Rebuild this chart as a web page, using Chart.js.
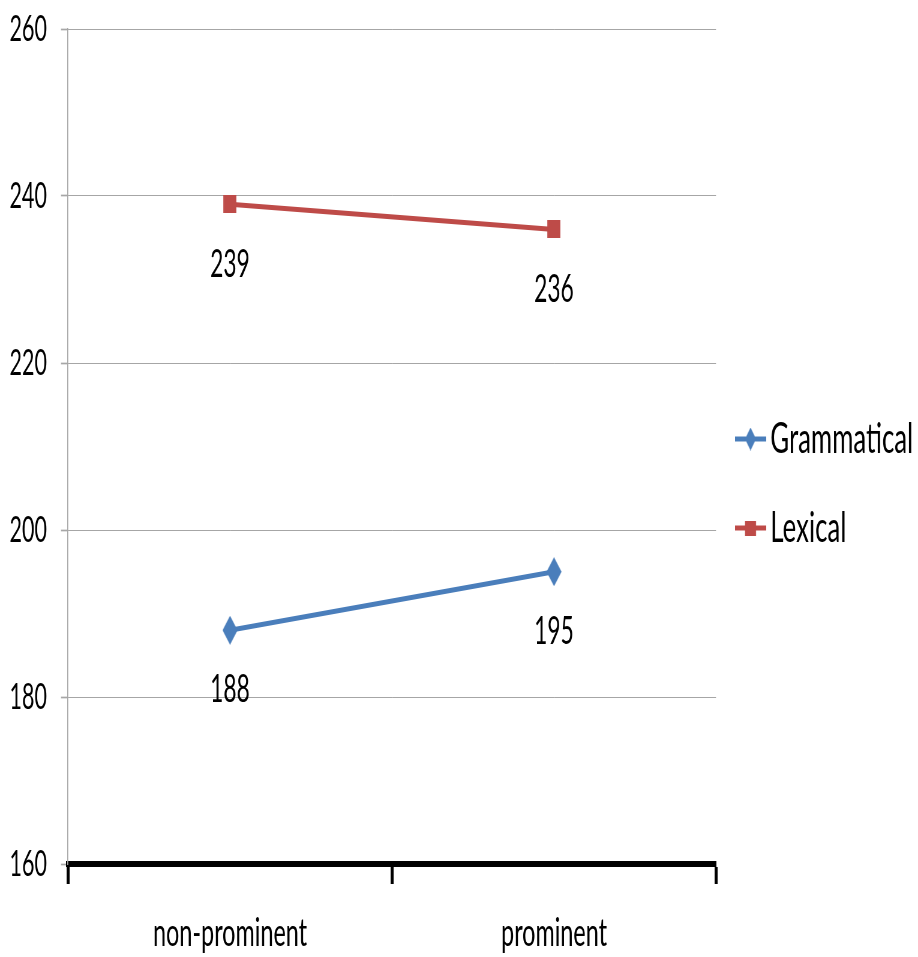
<!DOCTYPE html>
<html>
<head>
<meta charset="utf-8">
<script src="https://cdn.jsdelivr.net/npm/chart.js@4/dist/chart.umd.min.js"></script>
<style>
  html, body { margin: 0; padding: 0; background: #fff; overflow: hidden; }
  #frame { width: 918px; height: 957px; overflow: hidden; position: relative; background: #fff; }
  #chart { position: absolute; left: 0; top: 0; transform-origin: 0 0; }
</style>
</head>
<body>
<div id="frame"><canvas id="chart"></canvas></div>
<script>
// ---- data ----
const categories = ['non-prominent', 'prominent'];
const seriesNames = ['Grammatical', 'Lexical'];
const grammatical = [188, 195];
const lexical = [239, 236];
const yTicks = [160, 180, 200, 220, 240, 260];

// ---- geometry: the drawing is laid out wide, then condensed horizontally ----
const PAGE_W = 918, PAGE_H = 957;
const SQUEEZE = 0.6;
const W = Math.round(PAGE_W / SQUEEZE);
const px = v => v * W / PAGE_W;           // page x-distance -> canvas units

const BLUE = '#4A7EBB', RED = '#BE4B48';

function hasFont(name) {
  const g = document.createElement('canvas').getContext('2d');
  const probe = '0123456789 abcdefg';
  g.font = '40px monospace';
  const a = g.measureText(probe).width;
  g.font = `40px "${name}", monospace`;
  return g.measureText(probe).width !== a;
}
const NARROW = hasFont('Liberation Sans Narrow');
const NUM_FONT = NARROW ? 'Liberation Sans Narrow' : 'Lato';
const TICK_SIZE = NARROW ? 44 : 36;
const VALUE_SIZE = NARROW ? 47 : 38;

// marker / legend-icon bitmaps
function markerCanvas(kind, color, w, h, lineLen, lineW) {
  const cw = Math.ceil(Math.max(w, lineLen || 0)), ch = Math.ceil(Math.max(h, lineW || 0));
  const c = document.createElement('canvas');
  c.width = cw; c.height = ch;
  const g = c.getContext('2d');
  g.fillStyle = color; g.strokeStyle = color;
  const cx = cw / 2, cy = ch / 2;
  if (lineLen) {
    g.lineWidth = lineW;
    g.beginPath(); g.moveTo(0, cy); g.lineTo(cw, cy); g.stroke();
  }
  if (kind === 'diamond') {
    g.beginPath();
    g.moveTo(cx, cy - h / 2); g.lineTo(cx + w / 2, cy);
    g.lineTo(cx, cy + h / 2); g.lineTo(cx - w / 2, cy);
    g.closePath(); g.fill();
  } else {
    g.fillRect(cx - w / 2, cy - h / 2, w, h);
  }
  return c;
}
const pointImgs = [
  markerCanvas('diamond', BLUE, px(15), 29),
  markerCanvas('square', RED, px(13), 18)
];
const legendIcons = [
  markerCanvas('diamond', BLUE, px(11), 23, px(31), 5),
  markerCanvas('square', RED, px(11), 15, px(31), 5)
];

const canvas = document.getElementById('chart');
canvas.width = W; canvas.height = PAGE_H;
canvas.style.width = W + 'px';
canvas.style.height = PAGE_H + 'px';
canvas.style.transform = `scaleX(${PAGE_W / W})`;

Chart.defaults.font.family = 'Lato';
Chart.defaults.color = '#000';

// fixed legend column on the right
const legendBox = {
  id: 'legendBox',
  afterInit(chart) {
    const lg = chart.legend;
    if (!lg) return;
    const fit = lg.fit;
    lg.fit = function () { fit.call(this); this.width = W - px(716); };
  },
  afterLayout(chart) {
    const lg = chart.legend;
    if (!lg) return;
    lg.top = 16; lg.bottom = PAGE_H - 6; lg.height = lg.bottom - lg.top;
  }
};

// value labels under each point
const valueLabels = {
  id: 'valueLabels',
  afterDatasetsDraw(chart) {
    const ctx = chart.ctx;
    ctx.save();
    ctx.font = `${VALUE_SIZE}px "${NUM_FONT}"`;
    ctx.fillStyle = '#000';
    ctx.textAlign = 'center';
    ctx.textBaseline = 'middle';
    chart.data.datasets.forEach((ds, i) => {
      chart.getDatasetMeta(i).data.forEach((pt, j) => {
        ctx.fillText(String(ds.data[j]), pt.x, pt.y + 60);
      });
    });
    ctx.restore();
  }
};

new Chart(canvas, {
  type: 'line',
  data: {
    labels: categories,
    datasets: [
      { label: seriesNames[0], data: grammatical, borderColor: BLUE, backgroundColor: BLUE,
        borderWidth: 5, tension: 0, pointStyle: pointImgs[0], pointRadius: 6 },
      { label: seriesNames[1], data: lexical, borderColor: RED, backgroundColor: RED,
        borderWidth: 5, tension: 0, pointStyle: pointImgs[1], pointRadius: 6 }
    ]
  },
  options: {
    responsive: false,
    animation: false,
    devicePixelRatio: 1,
    events: [],
    layout: { padding: { top: 29, right: 0, bottom: 0, left: 0 } },
    plugins: {
      tooltip: { enabled: false },
      legend: {
        position: 'right',
        align: 'center',
        labels: {
          usePointStyle: true,
          pointStyleWidth: 23,
          padding: 46,
          color: '#000',
          font: { family: 'Lato', size: 43 },
          generateLabels(chart) {
            const items = Chart.defaults.plugins.legend.labels.generateLabels(chart);
            items.forEach((it, i) => { it.pointStyle = legendIcons[i]; });
            return items;
          }
        }
      }
    },
    scales: {
      x: {
        type: 'category',
        offset: true,
        grid: {
          display: true, offset: true, drawOnChartArea: false, drawTicks: true,
          tickLength: 20, tickWidth: 5, tickColor: '#000'
        },
        border: { display: true, color: '#000', width: 6 },
        ticks: { color: '#000', padding: 26, maxRotation: 0, font: { family: 'Lato', size: 39 } },
        afterFit(scale) {
          scale.height = PAGE_H - 864;
          scale.paddingLeft = 0; scale.paddingRight = 0;
        }
      },
      y: {
        min: 160, max: 260,
        afterBuildTicks(scale) { scale.ticks = yTicks.map(v => ({ value: v })); },
        grid: { color: '#A6A6A6', lineWidth: 1, tickLength: px(7), tickColor: '#A6A6A6', tickWidth: 1.7 },
        border: { display: true, color: '#A6A6A6', width: 1.7 },
        ticks: { color: '#000', padding: px(14), font: { family: NUM_FONT, size: TICK_SIZE } },
        afterFit(scale) {
          scale.width = px(68);
          scale.paddingTop = 0; scale.paddingBottom = 0;
        }
      }
    }
  },
  plugins: [legendBox, valueLabels]
});
</script>
</body>
</html>
